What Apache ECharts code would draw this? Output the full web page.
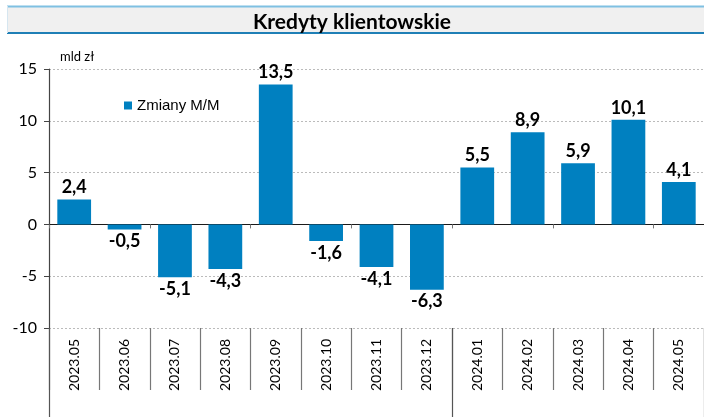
<!DOCTYPE html>
<html><head><meta charset="utf-8">
<script src="https://cdn.jsdelivr.net/npm/echarts@6/dist/echarts.min.js"></script>
<style>html,body{margin:0;padding:0;background:#fff}#c{width:704px;height:417px}</style>
</head><body><div id="c"></div>
<script>
const categories = ['2023.05','2023.06','2023.07','2023.08','2023.09','2023.10','2023.11','2023.12','2024.01','2024.02','2024.03','2024.04','2024.05'];
const changes = [2.4, -0.5, -5.1, -4.3, 13.5, -1.6, -4.1, -6.3, 5.5, 8.9, 5.9, 10.1, 4.1];
const yTicks = { min: -10, max: 15, interval: 5 };
const seriesName = 'Zmiany M/M';
const titleText = 'Kredyty klientowskie';
const unitText = 'mld zł';
const yearBreakIndex = categories.indexOf('2024.01');

const calib = 'Lato, "Open Sans", sans-serif';
const chart = echarts.init(document.getElementById('c'), null, {renderer: 'canvas'});
chart.setOption({
  animation: false,
  graphic: [
    {type: 'rect', shape: {x: 7, y: 6, width: 700, height: 27}, style: {fill: '#f0f0f0'}, z: -1},
    {type: 'line', shape: {x1: 7, y1: 6.5, x2: 704, y2: 6.5}, style: {stroke: '#7fc0e2', lineWidth: 2}},
    {type: 'line', shape: {x1: 7, y1: 33, x2: 704, y2: 33}, style: {stroke: '#1f7fb6', lineWidth: 2}},
    {type: 'line', shape: {x1: 7.5, y1: 6, x2: 7.5, y2: 33}, style: {stroke: '#d6e6f0', lineWidth: 1}},
    {type: 'text', left: 60, top: 50, style: {text: unitText, font: '13px ' + calib, fill: '#000'}}
  ],
  title: {text: titleText, left: 'center', top: 7, textStyle: {fontFamily: calib, fontWeight: 'bold', fontSize: 21, color: '#000'}},
  legend: {
    data: [seriesName], left: 119, top: 93, itemWidth: 8, itemHeight: 8, itemGap: 4,
    icon: 'rect',
    textStyle: {fontFamily: '"Liberation Sans", Arial, sans-serif', fontSize: 15, color: '#000'}
  },
  grid: {left: 49, right: -5, top: 69, bottom: 89, containLabel: false},
  xAxis: [
    {
      type: 'category', data: categories, position: 'bottom',
      axisLine: {onZero: true, lineStyle: {color: '#1a1a1a', width: 1.2}},
      axisTick: {show: true, length: 4, lineStyle: {color: '#777'}},
      axisLabel: {show: false}, splitLine: {show: false}
    },
    {
      type: 'category', data: categories, position: 'bottom',
      axisLine: {show: false, onZero: false},
      axisTick: {show: true, length: 62, lineStyle: {color: '#777', width: 1.2}},
      axisLabel: {show: true, rotate: 90, margin: 11, fontFamily: calib, fontSize: 14, color: '#000'},
      splitLine: {show: false}
    },
    {
      type: 'category', data: categories, position: 'bottom',
      axisLine: {show: false, onZero: false},
      axisTick: {show: true, length: 89, lineStyle: {color: '#555', width: 1.2},
        interval: function (i) { return i === 0 || i === yearBreakIndex; }},
      axisLabel: {show: false}, splitLine: {show: false}
    }
  ],
  yAxis: {
    type: 'value', min: yTicks.min, max: yTicks.max, interval: yTicks.interval,
    axisLine: {show: true, lineStyle: {color: '#444', width: 1.2}},
    axisTick: {show: true, length: 5, lineStyle: {color: '#444'}},
    axisLabel: {fontFamily: calib, fontSize: 16, color: '#000', margin: 12},
    splitLine: {show: true, lineStyle: {color: '#bbb', type: [2, 2], width: 1}}
  },
  series: [{
    name: seriesName, type: 'bar', xAxisIndex: 0, barWidth: '67%',
    itemStyle: {color: '#0080c0'},
    data: changes.map(v => ({value: v, label: {position: v < 0 ? 'bottom' : 'top'}})),
    label: {
      show: true, distance: 3, fontFamily: calib, fontWeight: 'bold', fontSize: 18, color: '#000',
      formatter: p => String(p.value).replace('.', ',')
    }
  }]
});
</script></body></html>
